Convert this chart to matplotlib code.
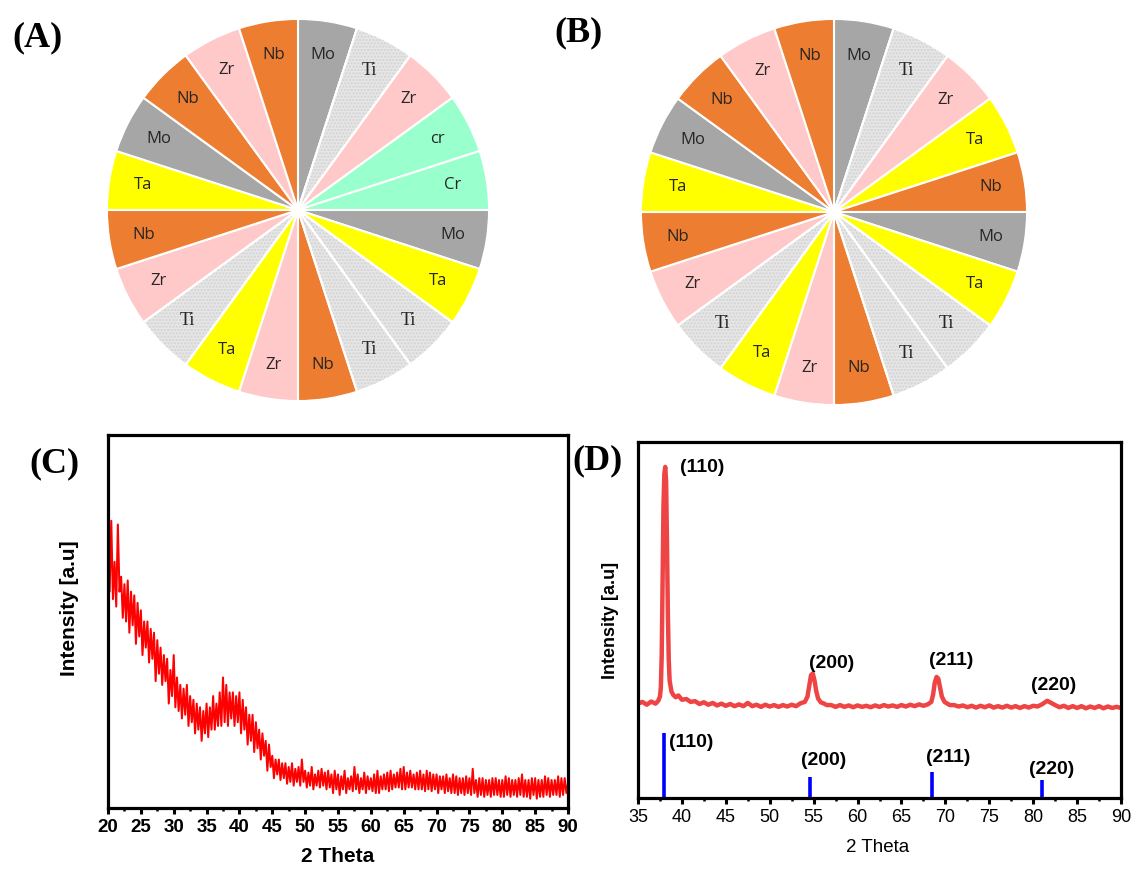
import matplotlib
matplotlib.use('Agg')
import matplotlib.pyplot as plt
from matplotlib.patches import Wedge
from matplotlib.ticker import MultipleLocator
import numpy as np

plt.rcParams['font.family'] = ['Liberation Sans', 'DejaVu Sans']

# pie slices, clockwise from 12 o'clock, all equal share
labels_a = ['Mo', 'Ti', 'Zr', 'cr', 'Cr', 'Mo', 'Ta', 'Ti', 'Ti', 'Nb',
            'Zr', 'Ta', 'Ti', 'Zr', 'Nb', 'Ta', 'Mo', 'Nb', 'Zr', 'Nb']
labels_b = ['Mo', 'Ti', 'Zr', 'Ta', 'Nb', 'Mo', 'Ta', 'Ti', 'Ti', 'Nb',
            'Zr', 'Ta', 'Ti', 'Zr', 'Nb', 'Ta', 'Mo', 'Nb', 'Zr', 'Nb']
shares = [1] * 20

element_colors = {'Mo': '#A6A6A6', 'Ti': '#E6E6E6', 'Zr': '#FFC9C9',
                  'Cr': '#99FFCC', 'cr': '#99FFCC', 'Ta': '#FFFF00',
                  'Nb': '#ED7D31'}

# (C) amorphous XRD, read every 0.25 deg from 20 to 90 (arb. units, axis = 0..100)
c_intensity = [
    72, 58, 77, 56,
    66, 54, 76, 58,
    62, 51, 60, 50,
    61, 47, 58, 49,
    57, 44, 55, 46,
    53, 41, 50, 43,
    50, 39, 48, 40,
    47, 34, 45, 36,
    43, 33, 41, 34,
    40, 28, 37, 30,
    41, 27, 35, 26,
    33, 24, 32, 25,
    33, 22, 30, 23,
    29, 20, 28, 21,
    27, 18, 26, 20,
    28, 19, 27, 21,
    30, 21, 28, 22,
    31, 22, 35, 23,
    33, 22, 31, 24,
    31, 22, 30, 23,
    31, 20, 29, 21,
    27, 17, 25, 18,
    25, 15, 23, 16,
    21, 13, 20, 14,
    18, 10, 17, 11,
    14, 8, 13, 9,
    13, 7.5, 12, 8,
    12, 6.5, 11, 7,
    12, 6, 10.5, 7,
    11, 6, 13, 7,
    10, 5.5, 9.5, 6,
    11, 5, 9, 6,
    10, 5.5, 10.5, 6,
    9.5, 5, 10, 5.5,
    9, 4, 10, 5,
    9, 3.5, 8.5, 5,
    10, 4, 8, 5,
    8.5, 4.5, 11, 5,
    9, 4, 8, 5,
    9.5, 4, 8.5, 5,
    8, 4.5, 9, 4,
    10, 4, 8.5, 5,
    9, 5, 9.5, 4.5,
    10, 5, 9, 5.5,
    9.5, 5.5, 10.5, 5,
    11, 5, 9.5, 5.5,
    10, 5.5, 9, 5,
    9.5, 5, 10, 5,
    9, 4.5, 10, 5,
    9.5, 4.5, 9, 5,
    9, 4, 8.5, 5,
    8.5, 4, 9, 4.5,
    8, 4, 9, 4,
    8.5, 3.5, 8, 4,
    8, 3.5, 8.5, 4,
    8, 3.5, 10.5, 4,
    7.5, 3, 8, 3.5,
    8, 3, 7.5, 3.5,
    7.5, 3, 8, 3.5,
    8, 3.5, 7.5, 3,
    7.5, 3, 8.5, 3.5,
    8, 3, 7.5, 3.5,
    7.5, 3, 8, 3.5,
    9, 3, 7.5, 3,
    7.5, 2.5, 8, 3.5,
    8, 2.5, 7.5, 3,
    7.5, 3, 8.5, 3.5,
    8, 3, 7.5, 3.5,
    7.5, 3.5, 8.5, 3,
    8, 3.5, 8, 4,
    6.5]
c_theta = np.arange(20, 90.001, 0.25)

# (D) crystalline XRD pattern
d_theta = [35.0, 35.5, 36.0, 36.5, 37.0, 37.3, 37.5, 37.6, 37.7, 37.8,
           37.9, 38.0, 38.1, 38.2, 38.3, 38.4, 38.5, 38.6, 38.8, 39.0,
           39.3, 39.6, 40.0, 40.5, 41.0, 41.5, 42.0, 42.5, 43.0, 43.5,
           44.0, 44.5, 45.0, 45.5, 46.0, 46.5, 47.0, 47.5, 48.0, 48.5,
           49.0, 49.5, 50.0, 50.5, 51.0, 51.5, 52.0, 52.5, 53.0, 53.5,
           54.0, 54.3, 54.5, 54.7, 54.9, 55.1, 55.3, 55.5, 55.8, 56.2,
           56.5, 57.0, 57.5, 58.0, 58.5, 59.0, 59.5, 60.0, 60.5, 61.0,
           61.5, 62.0, 62.5, 63.0, 63.5, 64.0, 64.5, 65.0, 65.5, 66.0,
           66.5, 67.0, 67.5, 68.0, 68.4, 68.6, 68.8, 69.0, 69.2, 69.4,
           69.6, 69.9, 70.3, 70.5, 71.0, 71.5, 72.0, 72.5, 73.0, 73.5,
           74.0, 74.5, 75.0, 75.5, 76.0, 76.5, 77.0, 77.5, 78.0, 78.5,
           79.0, 79.5, 80.0, 80.5, 81.0, 81.3, 81.6, 81.9, 82.3, 82.5,
           83.0, 83.5, 84.0, 84.5, 85.0, 85.5, 86.0, 86.5, 87.0, 87.5,
           88.0, 88.5, 89.0, 89.5, 90.0]
d_int = [26.5, 27.0, 26.2, 27.1, 26.5, 27.3, 28.5, 31.0, 40.0, 62.0,
         82.0, 91.0, 93.0, 89.0, 72.0, 52.0, 39.0, 33.0, 30.0, 29.0,
         28.3, 28.8, 27.6, 27.8, 27.0, 27.2, 26.4, 26.9, 26.2, 26.7,
         26.0, 26.5, 25.9, 26.4, 25.8, 26.3, 25.8, 26.7, 25.8, 26.2,
         25.6, 26.2, 25.7, 26.1, 25.6, 26.1, 25.7, 26.2, 25.8, 26.6,
         27.0, 28.5, 31.5, 34.5, 35.0, 33.0, 30.0, 28.0, 26.9, 26.5,
         26.1, 26.1, 25.6, 26.1, 25.6, 26.0, 25.5, 26.0, 25.6, 25.9,
         25.5, 26.0, 25.6, 26.1, 25.7, 26.0, 25.6, 26.1, 25.7, 26.2,
         25.8, 26.3, 25.9, 26.3, 27.0, 29.0, 32.5, 34.0, 33.5, 31.0,
         28.5, 27.0, 26.4, 26.1, 26.1, 25.7, 26.0, 25.5, 25.9, 25.4,
         25.9, 25.5, 26.0, 25.4, 25.8, 25.4, 25.9, 25.4, 25.8, 25.3,
         25.8, 25.4, 25.9, 25.7, 26.3, 26.8, 27.3, 26.9, 26.4, 26.1,
         25.5, 25.9, 25.3, 25.8, 25.3, 25.8, 25.2, 25.7, 25.3, 25.8,
         25.2, 25.7, 25.3, 25.6, 25.3]

# reference stick pattern
ref_theta = [38.0, 54.6, 68.5, 81.0]
ref_int = [18.3, 5.9, 7.3, 5.1]
hkl = ['(110)', '(200)', '(211)', '(220)']
peak_label_pos = [(42.3, 92.7), (57.0, 37.9), (70.7, 38.5), (82.3, 31.5)]
ref_label_pos = [(41.1, 15.7), (56.1, 10.4), (70.3, 11.5), (82.1, 7.9)]


fig = plt.figure(figsize=(11.31, 8.71), dpi=100)


def draw_pie(rect, labels):
    ax = fig.add_axes(rect)
    cols = [element_colors[l] for l in labels]
    wedges, _ = ax.pie(shares, colors=cols, startangle=90, counterclock=False,
                       radius=1, wedgeprops=dict(edgecolor='white', linewidth=1.5))
    for w, lab in zip(wedges, labels):
        if lab == 'Ti':
            # speckled look of the Ti slices
            ax.add_patch(Wedge(w.center, w.r, w.theta1, w.theta2, facecolor='none',
                               edgecolor='#D2D2D2', linewidth=0, hatch='.....'))
            ax.add_patch(Wedge(w.center, w.r, w.theta1, w.theta2, fill=False,
                               edgecolor='white', linewidth=1.5))
        ang = np.deg2rad((w.theta1 + w.theta2) / 2)
        x, y = 0.82 * np.cos(ang), 0.82 * np.sin(ang)
        if lab == 'Ti':
            ax.text(x, y, lab, ha='center', va='center', fontsize=13,
                    family='Liberation Serif', color='#262626')
        else:
            ax.text(x, y, lab, ha='center', va='center', fontsize=12,
                    family='Open Sans', color='#262626')
    ax.set_xlim(-1.005, 1.005)
    ax.set_ylim(-1.005, 1.005)
    ax.set_aspect('equal')
    ax.axis('off')
    return ax


draw_pie([106 / 1131, 469 / 871, 384 / 1131, 384 / 871], labels_a)
draw_pie([640 / 1131, 465 / 871, 388 / 1131, 388 / 871], labels_b)


def style_xrd(ax, bold, size):
    for s in ax.spines.values():
        s.set_linewidth(2.3)
    ax.set_yticks([])
    ax.xaxis.set_major_locator(MultipleLocator(5))
    ax.xaxis.set_minor_locator(MultipleLocator(2.5))
    ax.tick_params(axis='x', which='major', direction='out', length=4, width=2.2,
                   pad=4, labelsize=size)
    ax.tick_params(axis='x', which='minor', direction='out', length=2.5, width=1.8)
    for t in ax.get_xticklabels():
        t.set_fontweight('bold' if bold else 'normal')


# (C)
axc = fig.add_axes([108 / 1131, 63 / 871, 460 / 1131, 373 / 871])
axc.plot(c_theta, c_intensity, color='#FF0000', lw=1.45)
axc.set_xlim(20, 90)
axc.set_ylim(0, 100)
style_xrd(axc, True, 13.5)
axc.set_xlabel('2 Theta', fontsize=15, fontweight='bold', va='center')
axc.xaxis.set_label_coords(0.5, -0.13)
axc.set_ylabel('Intensity [a.u]', fontsize=15, fontweight='bold', va='center')
axc.yaxis.set_label_coords(-0.083, 0.535)

# (D)
axd = fig.add_axes([638 / 1131, 73 / 871, 483 / 1131, 356 / 871])
axd.plot(d_theta, d_int, color='#EE4444', lw=3.2)
axd.vlines(ref_theta, 0, ref_int, color='#0000FF', lw=2.6)
axd.set_xlim(35, 90)
axd.set_ylim(0, 100)
style_xrd(axd, False, 13)
for lab, (x, y) in zip(hkl, peak_label_pos):
    axd.text(x, y, lab, ha='center', va='center', fontsize=14, fontweight='bold')
for lab, (x, y) in zip(hkl, ref_label_pos):
    axd.text(x, y, lab, ha='center', va='center', fontsize=14, fontweight='bold')
axd.set_xlabel('2 Theta', fontsize=13.5, va='center')
axd.xaxis.set_label_coords(0.497, -0.14)
axd.set_ylabel('Intensity [a.u]', fontsize=13, fontweight='bold', va='center')
axd.yaxis.set_label_coords(-0.056, 0.5)

# panel letters
for letter, (px, py) in zip(['(A)', '(B)', '(C)', '(D)'],
                            [(37, 38), (579, 33), (54, 464), (598, 461)]):
    fig.text(px / 1131, 1 - py / 871, letter, ha='center', va='center',
             fontsize=26, fontweight='bold', family='Liberation Serif')

fig.savefig('out.png', dpi=100)
